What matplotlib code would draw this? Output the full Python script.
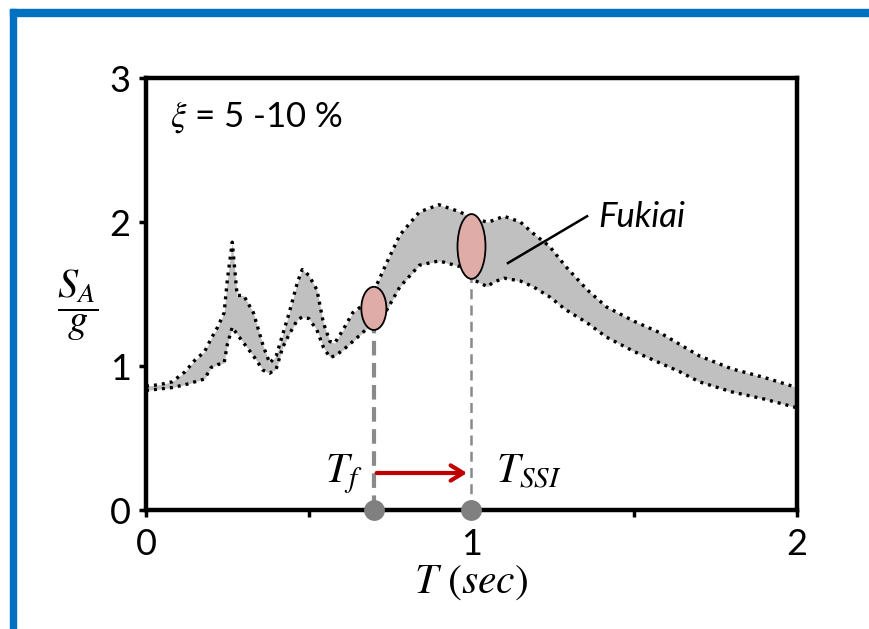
import numpy as np
import matplotlib.pyplot as plt
from matplotlib.patches import Ellipse, Rectangle

plt.rcParams['font.family'] = ['Lato', 'DejaVu Sans']
plt.rcParams['mathtext.fontset'] = 'stix'

# spectral band (upper / lower envelope)
period = [0.00, 0.04, 0.08, 0.12, 0.15, 0.18, 0.20, 0.22, 0.24, 0.25, 0.265,
          0.28, 0.30, 0.33, 0.36, 0.38, 0.40, 0.42, 0.44, 0.465, 0.48, 0.50,
          0.525, 0.545, 0.565, 0.58, 0.605, 0.635, 0.665, 0.70, 0.74, 0.78,
          0.84, 0.90, 0.965, 1.005, 1.05, 1.065, 1.10, 1.15, 1.19, 1.24,
          1.29, 1.355, 1.415, 1.50, 1.58, 1.64, 1.70, 1.80, 1.90, 2.00]
sa_upper = [0.86, 0.87, 0.89, 0.96, 1.04, 1.10, 1.19, 1.27, 1.37, 1.60, 1.86,
            1.49, 1.49, 1.37, 1.14, 1.02, 1.07, 1.22, 1.37, 1.58, 1.67, 1.63,
            1.53, 1.30, 1.17, 1.16, 1.25, 1.37, 1.42, 1.52, 1.72, 1.91,
            2.07, 2.12, 2.07, 2.02, 2.00, 2.01, 2.04, 2.00, 1.92, 1.83,
            1.69, 1.53, 1.41, 1.31, 1.23, 1.15, 1.07, 0.98, 0.92, 0.85]
sa_lower = [0.83, 0.84, 0.85, 0.87, 0.89, 0.91, 0.99, 1.01, 1.02, 1.15, 1.27,
            1.22, 1.16, 1.07, 0.97, 0.95, 0.98, 1.13, 1.22, 1.32, 1.34, 1.33,
            1.25, 1.13, 1.06, 1.07, 1.11, 1.17, 1.23, 1.31, 1.39, 1.55,
            1.70, 1.73, 1.69, 1.60, 1.55, 1.58, 1.61, 1.59, 1.55, 1.48,
            1.39, 1.30, 1.20, 1.10, 1.02, 0.96, 0.89, 0.82, 0.77, 0.71]

t_fixed = 0.70
t_ssi = 1.00
sa_fixed = 1.40
sa_ssi = 1.83

fig = plt.figure(figsize=(8.69, 6.29), dpi=100)
ax = fig.add_axes([146 / 869, 1 - 510 / 629, 651 / 869, 432 / 629])

ax.fill_between(period, sa_lower, sa_upper, color='#c0c0c0', lw=0, zorder=1)
ax.plot(period, sa_upper, color='black', lw=2.4, ls=(0, (0.9, 1.5)), zorder=2)
ax.plot(period, sa_lower, color='black', lw=2.4, ls=(0, (0.9, 1.5)), zorder=2)

# dashed drop lines to the axis
ax.plot([t_fixed, t_fixed], [0, sa_fixed - 0.15], color='#8a8a8a', lw=3.0,
        ls=(0, (3.5, 1.8)), zorder=3)
ax.plot([t_ssi, t_ssi], [0, sa_ssi - 0.22], color='#8a8a8a', lw=1.8,
        ls=(0, (4, 2.5)), zorder=3)

ax.add_patch(Ellipse((t_fixed, sa_fixed), 0.077, 0.30, fc='#e0aca8',
                     ec='black', lw=1.3, zorder=4))
ax.add_patch(Ellipse((t_ssi, sa_ssi), 0.086, 0.45, fc='#e0aca8',
                     ec='black', lw=1.3, zorder=4))

ax.plot([t_fixed, t_ssi], [0, 0], 'o', color='#808080', ms=15, mec='none',
        clip_on=False, zorder=6)

ax.annotate('', xy=(t_ssi - 0.005, 0.257), xytext=(t_fixed, 0.257),
            arrowprops=dict(arrowstyle='->,head_length=0.9,head_width=0.55',
                            color='#c00000', lw=3.0), zorder=5)

ax.text(0.664, 0.19, '$T_f$', fontsize=30, ha='right', va='baseline')
ax.text(1.075, 0.19, '$T_{SSI}$', fontsize=30, ha='left', va='baseline')

ax.text(0.074, 2.66, r'$\xi$ = 5 -10 %', fontsize=25, va='baseline')
ax.text(1.389, 1.965, 'Fukiai', fontsize=25, style='italic', va='baseline')
ax.plot([1.112, 1.355], [1.715, 2.04], color='black', lw=1.8, zorder=5)

ax.set_xlim(0, 2)
ax.set_ylim(0, 3)
ax.set_xticks([0, 0.5, 1, 1.5, 2])
ax.set_xticklabels(['0', '', '1', '', '2'])
ax.set_yticks([0, 1, 2, 3])
ax.tick_params(direction='out', length=5, width=2.5, labelsize=26)
ax.tick_params(axis='x', pad=8)
ax.tick_params(axis='y', pad=6)
for sp in ax.spines.values():
    sp.set_linewidth(3.2)

ax.set_xlabel('$T\\ (sec)$', fontsize=30, labelpad=2)
fig.text(78 / 869, 1 - 305 / 629, r'$\dfrac{S_A}{g}$', fontsize=29,
         ha='center', va='center')

# blue slide frame
fig.patches.append(Rectangle((10 / 869, 1 - 16 / 629), 1, 7 / 629,
                             transform=fig.transFigure, color='#0070c0'))
fig.patches.append(Rectangle((10 / 869, 0), 6 / 869, 1 - 9 / 629,
                             transform=fig.transFigure, color='#0070c0'))

fig.savefig('out.png', dpi=100)
